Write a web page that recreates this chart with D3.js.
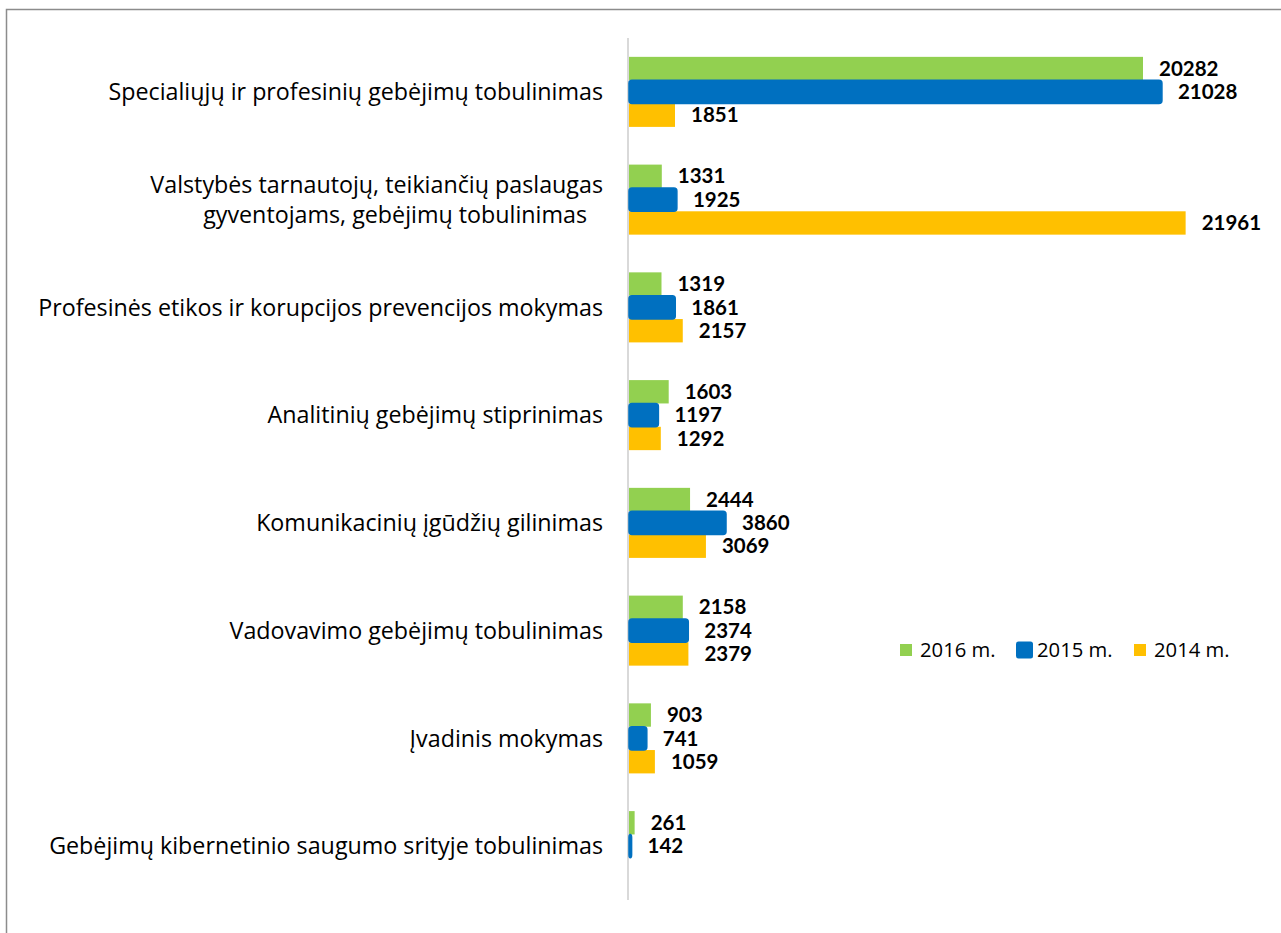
<!DOCTYPE html>
<html><head><meta charset="utf-8">
<script src="https://cdn.jsdelivr.net/npm/d3@7"></script>
<style>body{margin:0;background:#fff}svg{display:block}</style>
</head><body>
<svg id="c" width="1281" height="933"></svg>
<script>
const categories = [
  ["Specialiųjų ir profesinių gebėjimų tobulinimas"],
  ["Valstybės tarnautojų, teikiančių paslaugas", "gyventojams, gebėjimų tobulinimas"],
  ["Profesinės etikos ir korupcijos prevencijos mokymas"],
  ["Analitinių gebėjimų stiprinimas"],
  ["Komunikacinių įgūdžių gilinimas"],
  ["Vadovavimo gebėjimų tobulinimas"],
  ["Įvadinis mokymas"],
  ["Gebėjimų kibernetinio saugumo srityje tobulinimas"]
];
const seriesNames = ["2016 m.", "2015 m.", "2014 m."];
const values2016 = [20282, 1331, 1319, 1603, 2444, 2158, 903, 261];
const values2015 = [21028, 1925, 1861, 1197, 3860, 2374, 741, 142];
const values2014 = [1851, 21961, 2157, 1292, 3069, 2379, 1059, null];
const colors = ["#92D050", "#0070C0", "#FFC000"];

const svg = d3.select("#c");
// border
svg.append("path").attr("d","M6.5,950 V9.5 H1300").attr("fill","none").attr("stroke","#8c8c8c").attr("stroke-width",1.5);

const x = d3.scaleLinear().domain([0, 20282]).range([628, 1143]);
const idx = d3.range(categories.length);
const y0 = d3.scaleBand().domain(idx).range([38, 900]).paddingInner(0.35).paddingOuter(0.175);
const y1 = d3.scaleBand().domain([0,1,2]).range([0, y0.bandwidth()]);
const series = [values2016, values2015, values2014];

// axis line
svg.append("line").attr("x1",628).attr("x2",628).attr("y1",38).attr("y2",900).attr("stroke","#d9d9d9").attr("stroke-width",2);

const catFont = "'Open Sans', Lato, sans-serif";
const font = "Lato, 'Open Sans', sans-serif";
// measure to fit the reference label width
const probe = svg.append("text").attr("font-family",catFont).attr("font-size",20).text(categories[0][0]);
const catSize = 20 * 495 / probe.node().getComputedTextLength();
probe.remove();

// category labels
idx.forEach(i => {
  const lines = categories[i];
  const cy = y0(i) + y0.bandwidth()/2;
  const lh = 30;
  lines.forEach((t, j) => {
    svg.append("text").attr("x", j === 0 ? 603 : 587)
      .attr("y", cy + (j - (lines.length-1)/2)*lh)
      .attr("dy","0.35em").attr("text-anchor","end")
      .attr("font-family",catFont).attr("font-size",catSize).attr("fill","#000").text(t);
  });
});

// bars: draw green, yellow, then blue on top
[0,2,1].forEach(s => {
  const g = svg.append("g");
  idx.forEach(i => {
    const v = series[s][i];
    if (v == null) return;
    const yy = y0(i) + y1(s);
    const r = g.append("rect").attr("x", x(0)+1).attr("y", yy)
      .attr("width", x(v)-x(0)-1).attr("height", y1.bandwidth()).attr("fill", colors[s]);
    if (s === 1) r.attr("rx",3).attr("stroke",colors[s]).attr("stroke-width",1.5);
  });
});
// value labels
[0,1,2].forEach(s => {
  idx.forEach(i => {
    const v = series[s][i];
    if (v == null) return;
    const yy = y0(i) + y1(s) + y1.bandwidth()/2;
    svg.append("text").attr("x", x(v)+16).attr("y", yy).attr("dy","0.35em")
      .attr("font-family",font).attr("font-weight","bold").attr("font-size",20.5)
      .attr("fill","#000").text(v);
  });
});

// legend
const legX = [900, 1016, 1134];
seriesNames.forEach((n, s) => {
  const big = s === 1;
  const sz = big ? 17 : 12;
  svg.append("rect").attr("x", legX[s]).attr("y", 650 - sz/2).attr("width", sz).attr("height", sz)
    .attr("rx", big ? 2.5 : 0).attr("fill", colors[s]);
  svg.append("text").attr("x", legX[s] + (big ? 21 : 20)).attr("y", 650).attr("dy","0.35em")
    .attr("font-family",catFont).attr("font-size",catSize*0.87).attr("fill","#000").text(n);
});
</script>
</body></html>
